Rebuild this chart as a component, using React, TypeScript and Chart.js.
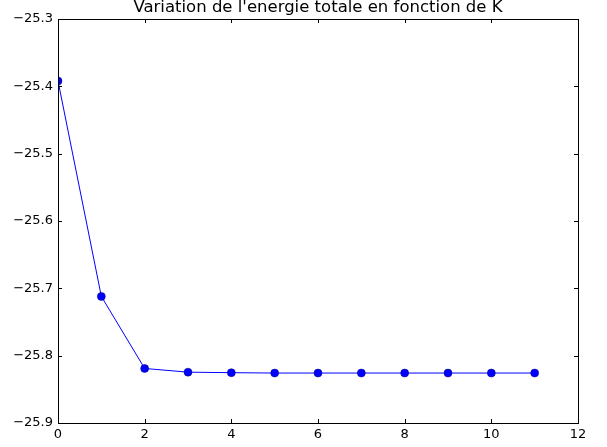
import React, { useEffect, useRef } from "react";
import { Chart, registerables } from "chart.js";

Chart.register(...registerables);

const kValues = [0, 1, 2, 3, 4, 5, 6, 7, 8, 9, 10, 11];
const energies = [
  -25.392, -25.712, -25.819, -25.8245, -25.8253, -25.8258, -25.8258, -25.8258,
  -25.8258, -25.8258, -25.8258, -25.8258,
];
const xTicks = [0, 2, 4, 6, 8, 10, 12];
const yTicks = [-25.9, -25.8, -25.7, -25.6, -25.5, -25.4, -25.3];
const titleText = "Variation de l'energie totale en fonction de K";

const FONT = "'DejaVu Sans', sans-serif";

const framePlugin = {
  id: "frame",
  afterDatasetsDraw(chart: any) {
    const { ctx, chartArea } = chart;
    const { left, right, top, bottom } = chartArea;
    const xs = chart.scales.x;
    const ys = chart.scales.y;
    ctx.save();
    ctx.strokeStyle = "#000";
    ctx.lineWidth = 1;
    const tl = 4;
    ctx.beginPath();
    xTicks.forEach((v) => {
      const px = Math.round(xs.getPixelForValue(v)) + 0.5;
      ctx.moveTo(px, bottom);
      ctx.lineTo(px, bottom - tl);
      ctx.moveTo(px, top);
      ctx.lineTo(px, top + tl);
    });
    yTicks.forEach((v) => {
      const py = Math.round(ys.getPixelForValue(v)) + 0.5;
      ctx.moveTo(left, py);
      ctx.lineTo(left + tl, py);
      ctx.moveTo(right, py);
      ctx.lineTo(right - tl, py);
    });
    ctx.stroke();
    ctx.strokeRect(
      Math.round(left) + 0.5,
      Math.round(top) + 0.5,
      Math.round(right - left),
      Math.round(bottom - top)
    );
    ctx.restore();
  },
};

export default function App() {
  const ref = useRef<HTMLCanvasElement>(null);
  useEffect(() => {
    if (!ref.current) return;
    const chart = new Chart(ref.current, {
      type: "line",
      data: {
        datasets: [
          {
            data: kValues.map((k, i) => ({ x: k, y: energies[i] })),
            borderColor: "#0000ff",
            borderWidth: 1,
            backgroundColor: "#0000ff",
            pointBackgroundColor: "#0000ff",
            pointBorderColor: "#000080",
            pointBorderWidth: 0.5,
            pointRadius: 4,
            tension: 0,
            fill: false,
          },
        ],
      },
      options: {
        animation: false,
        responsive: false,
        layout: { padding: { left: 0, right: 29, top: 0, bottom: 0 } },
        plugins: {
          legend: { display: false },
          tooltip: { enabled: false },
          title: {
            display: true,
            text: titleText,
            fullSize: false,
            color: "#000",
            font: { family: FONT, size: 16.5, weight: "normal", lineHeight: 0.945 },
            padding: { top: 0, bottom: 3.4 },
          },
        },
        scales: {
          x: {
            type: "linear",
            min: 0,
            max: 12,
            afterFit: (s: any) => {
              s.height = 24;
            },
            afterBuildTicks: (s: any) => {
              s.ticks = xTicks.map((v) => ({ value: v }));
            },
            grid: { display: false, drawTicks: false },
            border: { display: false },
            ticks: {
              color: "#000",
              padding: 4,
              maxRotation: 0,
              autoSkip: false,
              font: { family: FONT, size: 13 },
              callback: (v: any) => String(v),
            },
          },
          y: {
            type: "linear",
            min: -25.9,
            max: -25.3,
            afterFit: (s: any) => {
              s.width = 58;
            },
            afterBuildTicks: (s: any) => {
              s.ticks = yTicks.map((v) => ({ value: v }));
            },
            grid: { display: false, drawTicks: false },
            border: { display: false },
            ticks: {
              color: "#000",
              padding: 5,
              autoSkip: false,
              font: { family: FONT, size: 13 },
              callback: (v: any) => Number(v).toFixed(1).replace("-", "\u2212"),
            },
          },
        },
      },
      plugins: [framePlugin],
    });
    return () => chart.destroy();
  }, []);
  return (
    <div style={{ position: "fixed", left: 0, top: 0, width: 607, height: 447, background: "#fff" }}>
      <canvas ref={ref} width={607} height={447} />
    </div>
  );
}
